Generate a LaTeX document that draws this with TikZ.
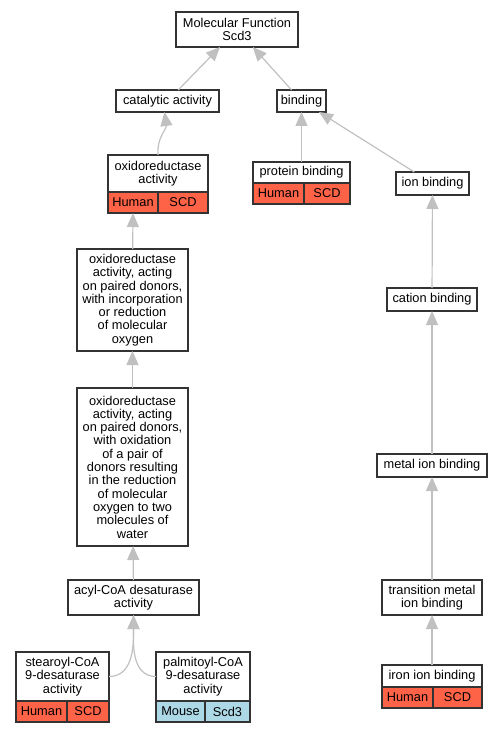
\documentclass[tikz,border=0pt]{standalone}
\usepackage{fontspec}
\setmainfont{Liberation Sans}
\usetikzlibrary{arrows.meta}
\definecolor{tomato}{RGB}{255,99,71}
\definecolor{lightblue}{RGB}{173,216,230}
\definecolor{edgegray}{RGB}{192,192,192}
\begin{document}
\begin{tikzpicture}[x=1pt,y=1pt]
\tikzset{
  term/.style={draw=black!80, line width=1.2pt, fill=white, align=center, inner sep=0pt, outer sep=0pt, font=\fontsize{12.8}{13.3}\selectfont},
  human/.style={term, fill=tomato, anchor=north west, minimum height=21},
  mouse/.style={term, fill=lightblue, anchor=north west, minimum height=21},
  isa/.style={draw=edgegray, line width=1.2pt, -{Triangle[length=14pt,width=12pt]}}
}
\useasboundingbox (0,0) rectangle (500,-733);
% left column
\node[term, minimum width=122, minimum height=35] (mf) at (237,-29.5) {Molecular Function\\Scd3};
\node[term, minimum width=103, minimum height=22] (cat) at (167.5,-101) {catalytic activity};
\node[term, minimum width=100, minimum height=37] (ox) at (158,-173.5) {oxidoreductase\\activity};
\node[human, minimum width=50] (oxH) at (ox.south west) {Human};
\node[human, minimum width=50] (oxS) at (oxH.north east) {SCD};
\node[term, minimum width=111, minimum height=102] (paired) at (132.5,-300) {oxidoreductase\\activity, acting\\on paired donors,\\with incorporation\\or reduction\\of molecular\\oxygen};
\node[term, minimum width=111, minimum height=158] (water) at (132.5,-467) {oxidoreductase\\activity, acting\\on paired donors,\\with oxidation\\of a pair of\\donors resulting\\in the reduction\\of molecular\\oxygen to two\\molecules of\\water};
\node[term, minimum width=131, minimum height=35] (acyl) at (133.5,-597.5) {acyl-CoA desaturase\\activity};
\node[term, minimum width=93, minimum height=49] (stear) at (62.5,-676.5) {stearoyl-CoA\\9-desaturase\\activity};
\node[human, minimum width=51] (stearH) at (stear.south west) {Human};
\node[human, minimum width=42] (stearS) at (stearH.north east) {SCD};
\node[term, minimum width=94, minimum height=49] (palm) at (203,-676.5) {palmitoyl-CoA\\9-desaturase\\activity};
\node[mouse, minimum width=49] (palmM) at (palm.south west) {Mouse};
\node[mouse, minimum width=45] (palmS) at (palmM.north east) {Scd3};
% right column
\node[term, minimum width=49, minimum height=22] (bind) at (301.5,-101) {binding};
\node[term, minimum width=97, minimum height=21] (prot) at (301.5,-172.5) {protein binding};
\node[human, minimum width=51] (protH) at (prot.south west) {Human};
\node[human, minimum width=46] (protS) at (protH.north east) {SCD};
\node[term, minimum width=73, minimum height=23] (ion) at (432.5,-183.5) {ion binding};
\node[term, minimum width=90, minimum height=23] (cation) at (432,-299.5) {cation binding};
\node[term, minimum width=110, minimum height=23] (metal) at (432,-465.5) {metal ion binding};
\node[term, minimum width=100, minimum height=35] (trans) at (432,-597.5) {transition metal\\ion binding};
\node[term, minimum width=100, minimum height=22] (iron) at (432,-676) {iron ion binding};
\node[human, minimum width=51] (ironH) at (iron.south west) {Human};
\node[human, minimum width=49] (ironS) at (ironH.north east) {SCD};
% is_a edges
\draw[isa] (cat) -- (mf);
\draw[isa] (bind) -- (mf);
\draw[isa] (ox.north) to[out=95,in=-82] ([xshift=-3pt]cat.south);
\draw[isa] (prot) -- (bind);
\draw[isa] (ion) -- (bind);
\draw[isa] (paired) -- (oxH);
\draw[isa] (water) -- (paired);
\draw[isa] (acyl) -- (water);
\draw[isa] (stear.east) to[out=0,in=-90] (acyl.south);
\draw[isa] (palm.west) to[out=180,in=-90] (acyl.south);
\draw[isa] (cation) -- (ion);
\draw[isa] (metal) -- (cation);
\draw[isa] (trans) -- (metal);
\draw[isa] (iron) -- (trans);
\end{tikzpicture}
\end{document}
